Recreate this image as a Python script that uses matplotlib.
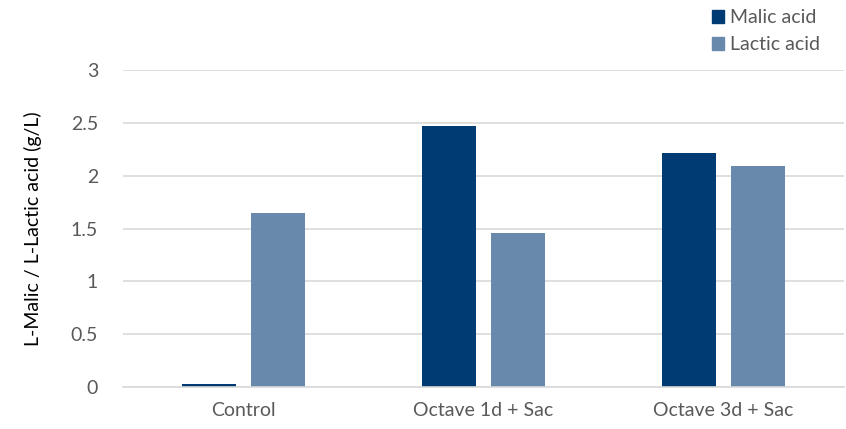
import numpy as np
import matplotlib.pyplot as plt
from matplotlib.patches import Patch

categories = ['Control', 'Octave 1d + Sac', 'Octave 3d + Sac']
malic = [0.03, 2.47, 2.21]
lactic = [1.65, 1.46, 2.09]
y_ticks = [0, 0.5, 1, 1.5, 2, 2.5, 3]

malic_color = '#003B73'
lactic_color = '#6889AB'
text_color = '#595959'
grid_color = '#D9D9D9'

plt.rcParams['font.family'] = ['Lato', 'DejaVu Sans']
fs = 14

fig = plt.figure(figsize=(8.46, 4.29), dpi=100)
ax = fig.add_axes([0.1454, 0.0979, 0.852, 0.7389])

x = np.arange(len(categories))
width = 0.225
offset = 0.144

ax.bar(x - offset, malic, width, color=malic_color, label='Malic acid', zorder=3)
ax.bar(x + offset, lactic, width, color=lactic_color, label='Lactic acid', zorder=3)

ax.set_xlim(-0.5, len(categories) - 0.5)
ax.set_ylim(0, 3)
ax.set_yticks(y_ticks)
ax.set_yticklabels([f'{t:g}' for t in y_ticks])
ax.set_xticks(x)
ax.set_xticklabels(categories)

ax.yaxis.grid(True, color=grid_color, linewidth=1.2, zorder=0)
for side in ('left', 'right', 'top'):
    ax.spines[side].set_visible(False)
ax.spines['bottom'].set_color(grid_color)
ax.spines['bottom'].set_linewidth(1.2)
ax.spines['bottom'].set_zorder(4)

ax.tick_params(axis='both', length=0, labelsize=fs, colors=text_color)
ax.tick_params(axis='y', pad=18)
ax.tick_params(axis='x', pad=11)
ax.set_ylabel('L-Malic / L-Lactic acid (g/L)', fontsize=fs, color='black')
ax.yaxis.set_label_coords(-0.113, 0.5)

handles = [Patch(color=malic_color, label='Malic acid'),
           Patch(color=lactic_color, label='Lactic acid')]
fig.legend(handles=handles, loc='upper left', bbox_to_anchor=(0.825, 1.01),
           frameon=False, fontsize=fs, labelcolor=text_color,
           handlelength=0.65, handleheight=0.65, handletextpad=0.3,
           labelspacing=0.5, borderaxespad=0.3)

fig.savefig('out.png', dpi=100)
